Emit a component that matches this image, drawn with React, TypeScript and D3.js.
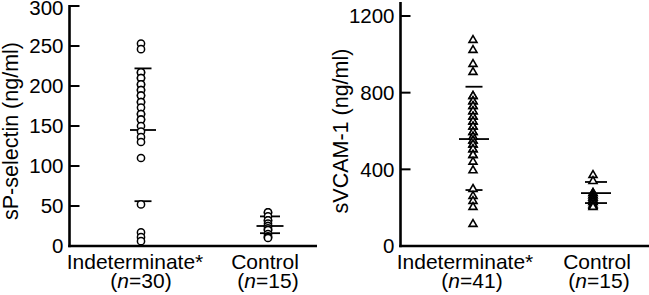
import React from "react";
import * as d3 from "d3";

// ---- Data ----
const categories = ["Indeterminate*", "Control"];
const leftNs = ["30", "15"];
const rightNs = ["41", "15"];

const leftTicks = [0, 50, 100, 150, 200, 250, 300];
const rightTicks = [0, 400, 800, 1200];

// sP-selectin (ng/ml) — overlapping points share values
const selIndeterminate = [
  253, 246,
  217, 217, 210, 210, 202, 202, 195, 195, 188, 188, 180, 180, 173, 165, 165, 158, 158, 150, 143, 136, 130,
  110, 52, 17, 11, 6,
];
const selControl = [42, 42, 37, 32, 32, 28, 25, 25, 22, 20, 20, 15, 12, 11, 10];
// mean, upper, lower
const selIndStats = [145, 222, 56];
const selCtrlStats = [25, 37, 16];

// sVCAM-1 (ng/ml)
const vcamIndeterminate = [
  1080, 1028, 955, 913,
  788, 788, 760, 760, 735, 735, 708, 708, 680, 680, 655, 655, 628, 628, 600, 600,
  575, 575, 555, 555, 535, 535, 510, 510, 480, 480, 445, 400,
  303, 266, 240, 209, 120,
];
const vcamControl = [376, 344, 282, 282, 270, 270, 258, 258, 246, 246, 234, 234, 222, 215, 209];
const vcamIndStats = [558, 831, 292];
const vcamCtrlStats = [276, 334, 224];

const FONT = "'Liberation Sans', Arial, Helvetica, sans-serif";

function tri(cx: number, cy: number, w = 8, h = 6.8) {
  return `M${cx},${cy - h / 2}L${cx + w / 2},${cy + h / 2}L${cx - w / 2},${cy + h / 2}Z`;
}

type PanelProps = {
  axisX: number;
  axisEnd: number;
  y: d3.ScaleLinear<number, number>;
  ticks: number[];
  axisTop: number;
  x: d3.ScalePoint<string>;
  title: string;
  titleX: number;
  ns: string[];
  labelOffsets: number[];
  children: React.ReactNode;
};

function Panel(p: PanelProps) {
  const y0 = p.y(0);
  return (
    <g>
      <line x1={p.axisX} x2={p.axisX} y1={y0 + 1.2} y2={p.axisTop} stroke="#000" strokeWidth={2.6} />
      <line x1={p.axisX - 1.3} x2={p.axisEnd} y1={y0} y2={y0} stroke="#000" strokeWidth={2.6} />
      {p.ticks.map((t) => (
        <g key={t}>
          {t !== 0 && (
            <line x1={p.axisX} x2={p.axisX + 10} y1={p.y(t)} y2={p.y(t)} stroke="#000" strokeWidth={2} />
          )}
          <text x={p.axisX - 6} y={Math.max(p.y(t), 7.5)} dy="0.36em" textAnchor="end" fontSize={20.5} fontFamily={FONT}>
            {t}
          </text>
        </g>
      ))}
      <text
        transform={`translate(${p.titleX},${131}) rotate(-90)`}
        textAnchor="middle"
        fontSize={21.5}
        fontFamily={FONT}
      >
        {p.title}
      </text>
      {categories.map((c, i) => (
        <g key={c}>
          <text x={(p.x(c) as number) + p.labelOffsets[i]} y={268.5} textAnchor="middle" fontSize={21} fontFamily={FONT}>
            {c}
          </text>
          <text x={(p.x(c) as number) + p.labelOffsets[i + 2]} y={287.5} textAnchor="middle" fontSize={21} fontFamily={FONT}>
            (<tspan fontStyle="italic">n</tspan>={p.ns[i]})
          </text>
        </g>
      ))}
      {p.children}
    </g>
  );
}

function StatLines({ cx, y, stats, meanHalf, sdHalf }: { cx: number; y: d3.ScaleLinear<number, number>; stats: number[]; meanHalf: number; sdHalf: number }) {
  return (
    <g stroke="#000" strokeWidth={1.8}>
      {stats.map((v, i) => {
        const h = i === 0 ? meanHalf : sdHalf;
        return <line key={i} x1={cx - h} x2={cx + h} y1={y(v)} y2={y(v)} />;
      })}
    </g>
  );
}

export default function App() {
  const yL = d3.scaleLinear().domain([0, 300]).range([246, 6]);
  const yR = d3.scaleLinear().domain([0, 1200]).range([246, 16]);
  const xL = d3.scalePoint<string>().domain(categories).range([141, 268]);
  const xR = d3.scalePoint<string>().domain(categories).range([473, 593]);

  return (
    <svg
      width={649}
      height={295}
      style={{ position: "absolute", left: 0, top: 0, background: "#fff" }}
    >
      <rect width={649} height={295} fill="#fff" />
      <Panel
        axisX={69.5}
        axisEnd={317}
        y={yL}
        ticks={leftTicks}
        axisTop={yL(300) - 1}
        x={xL}
        title="sP-selectin (ng/ml)"
        titleX={18}
        ns={leftNs}
        labelOffsets={[-6, -3, 0, 0]}
      >
        <StatLines cx={(xL(categories[0]) as number) + 2} y={yL} stats={selIndStats} meanHalf={13} sdHalf={8.5} />
        <StatLines cx={(xL(categories[1]) as number) + 2} y={yL} stats={selCtrlStats} meanHalf={13.5} sdHalf={10} />
        {selIndeterminate.map((v, i) => (
          <circle key={"a" + i} cx={xL(categories[0])} cy={yL(v)} r={3.6} fill="#fff" stroke="#000" strokeWidth={1.5} />
        ))}
        {selControl.map((v, i) => (
          <circle key={"b" + i} cx={xL(categories[1])} cy={yL(v)} r={3.6} fill="#fff" stroke="#000" strokeWidth={1.5} />
        ))}
      </Panel>
      <Panel
        axisX={400.5}
        axisEnd={649}
        y={yR}
        ticks={rightTicks}
        axisTop={2}
        x={xR}
        title="sVCAM-1 (ng/ml)"
        titleX={348}
        ns={rightNs}
        labelOffsets={[-8, 4, -1, 6]}
      >
        <StatLines cx={(xR(categories[0]) as number) + 1} y={yR} stats={vcamIndStats} meanHalf={15} sdHalf={8.5} />
        <StatLines cx={(xR(categories[1]) as number) + 3} y={yR} stats={vcamCtrlStats} meanHalf={15} sdHalf={11} />
        {vcamIndeterminate.map((v, i) => (
          <path key={"c" + i} d={tri(xR(categories[0]) as number, yR(v))} fill="#fff" stroke="#000" strokeWidth={1.6} />
        ))}
        {vcamControl.map((v, i) => (
          <path key={"d" + i} d={tri(xR(categories[1]) as number, yR(v))} fill="#fff" stroke="#000" strokeWidth={1.6} />
        ))}
      </Panel>
    </svg>
  );
}
